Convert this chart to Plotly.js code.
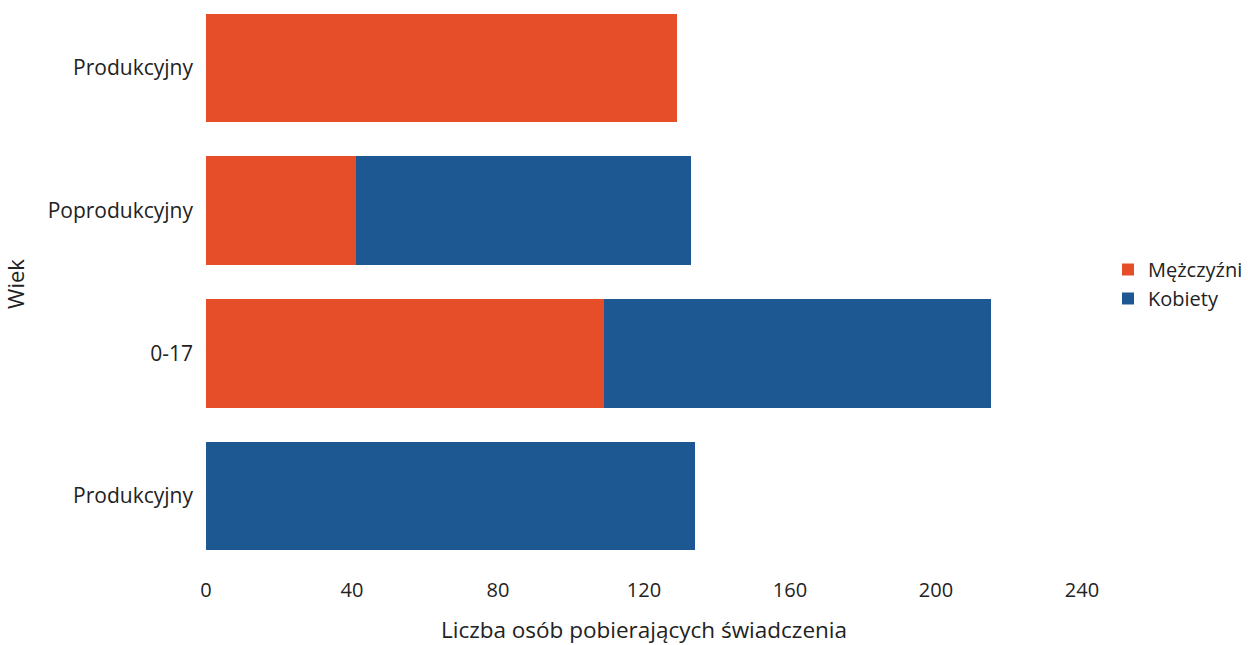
<!DOCTYPE html>
<html>
<head>
<meta charset="utf-8">
<script src="https://cdn.plot.ly/plotly-3.0.1.min.js"></script>
<style>html,body{margin:0;padding:0;background:#fff;}#chart{width:1248px;height:645px;}</style>
</head>
<body>
<div id="chart"></div>
<script>
// Categories from bottom to top (two distinct groups both labelled "Produkcyjny")
const categories = ['Produkcyjny', '0-17', 'Poprodukcyjny', 'Produkcyjny'];
const mezczyzni = [0, 109, 41, 129];
const kobiety = [134, 106, 92, 0];
const xTicks = [0, 40, 80, 120, 160, 200, 240];

const pos = categories.map((c, i) => i);

const traces = [
  {type: 'bar', orientation: 'h', name: 'Mężczyźni', y: pos, x: mezczyzni,
   marker: {color: '#e64e2a'}, hovertemplate: '%{x}<extra>Mężczyźni</extra>'},
  {type: 'bar', orientation: 'h', name: 'Kobiety', y: pos, x: kobiety,
   marker: {color: '#1d5892'}, hovertemplate: '%{x}<extra>Kobiety</extra>'}
];

const layout = {
  width: 1248, height: 645,
  barmode: 'stack', bargap: 0.24,
  paper_bgcolor: '#fff', plot_bgcolor: '#fff',
  font: {family: '"Open Sans", sans-serif', color: '#222', size: 20},
  margin: {l: 206, r: 165, t: 0, b: 77},
  xaxis: {range: [0, 240], tickvals: xTicks, ticktext: xTicks.map(String),
    showgrid: false, zeroline: false, showline: false, ticks: '',
    tickfont: {size: 20}, ticklabelstandoff: 8,
    title: {text: 'Liczba osób pobierających świadczenia', font: {size: 22.5}, standoff: 22}},
  yaxis: {range: [-0.505, 3.477], tickvals: pos, ticktext: categories,
    showgrid: false, zeroline: false, showline: false, ticks: '',
    tickfont: {size: 21}, ticklabelstandoff: 12,
    title: {text: 'Wiek', font: {size: 22}, standoff: 22}},
  legend: {x: 1.03, xanchor: 'left', y: 0.5, yanchor: 'middle', traceorder: 'normal',
    font: {size: 20}, itemwidth: 30, tracegroupgap: 0}
};

Plotly.newPlot('chart', traces, layout, {displayModeBar: false});
</script>
</body>
</html>
